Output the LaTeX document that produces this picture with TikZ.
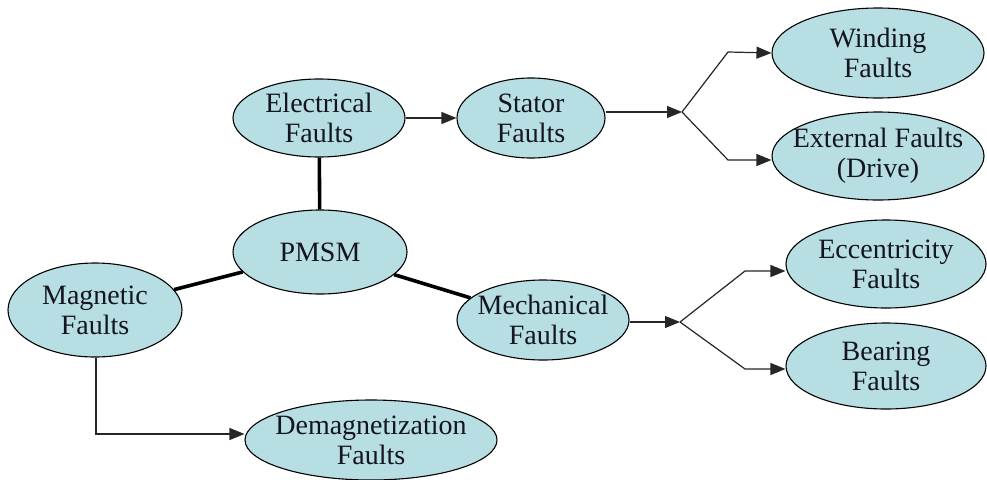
\documentclass[tikz,border=0pt]{standalone}
\usepackage{fontspec}
\setmainfont{Liberation Serif}
\usetikzlibrary{shapes.geometric,arrows.meta}
\definecolor{faultfill}{RGB}{183,222,226}
\definecolor{inktext}{RGB}{20,20,35}
\begin{document}
\begin{tikzpicture}[x=1pt,y=-1pt,
  fault/.style={ellipse,draw=black,line width=1.1pt,fill=faultfill,inner sep=0pt},
  faulttext/.style={align=center,inner sep=0pt,text=inktext,font=\fontsize{28}{30}\selectfont},
  thin/.style={line width=1.2pt,draw=black!85},
  thick/.style={line width=3.6pt},
  arr/.style={thin,-{Triangle[length=15pt,width=12pt]}}]
\useasboundingbox[fill=white] (0,0) rectangle (987,479);

% ellipses (fixed size, text placed over them)
\node[fault,minimum width=174pt,minimum height=84pt] (pmsm) at (320,252) {};
\node[fault,minimum width=172pt,minimum height=78pt] (elec) at (319,118) {};
\node[fault,minimum width=148pt,minimum height=80pt] (stator) at (531,118) {};
\node[fault,minimum width=212pt,minimum height=90pt] (wind) at (878,53) {};
\node[fault,minimum width=212pt,minimum height=88pt] (ext) at (878,156) {};
\node[fault,minimum width=174pt,minimum height=94pt] (mag) at (95,310) {};
\node[fault,minimum width=252pt,minimum height=80pt] (demag) at (371,440) {};
\node[fault,minimum width=172pt,minimum height=80pt] (mech) at (543,320) {};
\node[fault,minimum width=200pt,minimum height=88pt] (ecc) at (886,264) {};
\node[fault,minimum width=200pt,minimum height=86pt] (bear) at (886,366) {};

% labels
\node[faulttext] (tpmsm) at (pmsm) {PMSM};
\node[faulttext] (telec) at (elec) {Electrical\\Faults};
\node[faulttext] (tstator) at (stator) {Stator\\Faults};
\node[faulttext] (twind) at (wind) {Winding\\Faults};
\node[faulttext] (text) at (ext) {External Faults\\(Drive)};
\node[faulttext] (tmag) at (mag) {Magnetic\\Faults};
\node[faulttext] (tdemag) at (demag) {Demagnetization\\Faults};
\node[faulttext] (tmech) at (mech) {Mechanical\\Faults};
\node[faulttext] (tecc) at (ecc) {Eccentricity\\Faults};
\node[faulttext] (tbear) at (bear) {Bearing\\Faults};

% branch points
\coordinate (sb) at (682,112);
\coordinate (mb) at (680,322);
\coordinate (dm) at (96,434);

% thick links to PMSM
\draw[thick] (pmsm) -- (elec);
\draw[thick] (pmsm) -- (mag);
\draw[thick] (pmsm) -- (mech);

% electrical branch
\draw[arr] (elec.east) -- (stator.west);
\draw[arr] (stator.east |- sb) -- (sb);
\draw[arr] (sb) -- (728,52) -- (wind.west);
\draw[arr] (sb) -- (728,160) -- (ext.west |- 0,160);

% mechanical branch
\draw[arr] (mech.east |- mb) -- (mb);
\draw[arr] (mb) -- (745,271) -- (ecc.west |- 0,271);
\draw[arr] (mb) -- (745,369) -- (bear.west |- 0,369);

% magnetic branch
\draw[arr] (mag.south -| dm) -- (dm) -- (demag.west |- dm);
\end{tikzpicture}
\end{document}
